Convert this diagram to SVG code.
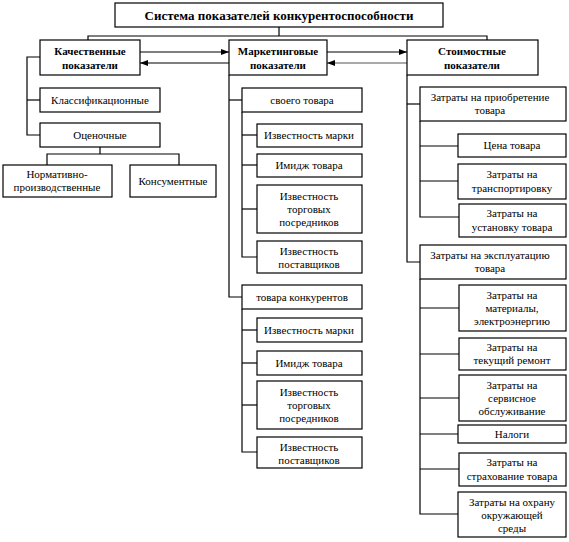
<svg xmlns="http://www.w3.org/2000/svg" width="569" height="542" viewBox="0 0 569 542">
<style>
rect{fill:#fff;stroke:#000;stroke-width:1.2}
text{font-family:'Liberation Serif','DejaVu Serif',serif;font-size:11px;fill:#000;text-anchor:middle}
.b{font-weight:bold}
.t{font-size:13px;font-weight:bold}
.c line,.c polyline{stroke:#000;stroke-width:1.2;fill:none}
</style>
<defs>
<marker id="ah" markerWidth="8" markerHeight="6" refX="8" refY="3" orient="auto" markerUnits="userSpaceOnUse">
<path d="M0,0 L8,3 L0,6 Z" fill="#000"/>
</marker>
</defs>
<g class="c" id="connectors">
<polyline points="279,27 279,36"/>
<polyline points="88,40 88,36 487,36 487,40"/>
<polyline points="40,57 27,57 27,135 40,135"/>
<line x1="27" y1="100" x2="40" y2="100"/>
<polyline points="100,147 100,154"/>
<polyline points="47,165 47,154 179,154 179,165"/>
<line x1="140" y1="52" x2="229" y2="52" marker-end="url(#ah)"/>
<line x1="229" y1="63" x2="140" y2="63" marker-end="url(#ah)"/>
<line x1="327" y1="52" x2="407" y2="52" marker-end="url(#ah)"/>
<line x1="407" y1="63" x2="327" y2="63" marker-end="url(#ah)" style="stroke:#555"/>
<polyline points="229,75 229,297 242,297"/>
<line x1="229" y1="100" x2="242" y2="100"/>
<polyline points="242,112 242,257 257,257"/>
<line x1="242" y1="135" x2="257" y2="135"/>
<line x1="242" y1="165" x2="257" y2="165"/>
<line x1="242" y1="209" x2="257" y2="209"/>
<polyline points="242,309 242,452 257,452"/>
<line x1="242" y1="330" x2="257" y2="330"/>
<line x1="242" y1="363" x2="257" y2="363"/>
<line x1="242" y1="405" x2="257" y2="405"/>
<polyline points="407,75 407,262 420,262"/>
<line x1="407" y1="104" x2="420" y2="104"/>
<polyline points="420,121 420,217 459,217"/>
<line x1="420" y1="146" x2="458" y2="146"/>
<line x1="420" y1="181" x2="458" y2="181"/>
<polyline points="420,279 420,514 458,514"/>
<line x1="420" y1="308" x2="459" y2="308"/>
<line x1="420" y1="354" x2="459" y2="354"/>
<line x1="420" y1="398" x2="459" y2="398"/>
<line x1="420" y1="434" x2="458" y2="434"/>
<line x1="420" y1="469" x2="459" y2="469"/>
</g>
<g font-family="Liberation Serif, serif">
<g id="n-top"><rect x="115" y="3" width="328" height="24"/><text class="t" x="279" y="20">Система показателей конкурентоспособности</text></g>
<g id="n-qual"><rect x="40" y="40" width="100" height="35"/><text class="b" x="90" y="55">Качественные</text><text class="b" x="90" y="69">показатели</text></g>
<g id="n-mark"><rect x="229" y="40" width="98" height="35"/><text class="b" x="278" y="55">Маркетинговые</text><text class="b" x="278" y="69">показатели</text></g>
<g id="n-cost"><rect x="407" y="40" width="131" height="35"/><text class="b" x="472" y="55">Стоимостные</text><text class="b" x="472" y="69">показатели</text></g>
<g id="n-class"><rect x="40" y="88" width="120" height="24"/><text x="100" y="104">Классификационные</text></g>
<g id="n-eval"><rect x="40" y="123" width="120" height="24"/><text x="100" y="139">Оценочные</text></g>
<g id="n-norm"><rect x="3" y="165" width="109" height="32"/><text x="57" y="178">Нормативно-</text><text x="57" y="191">производственные</text></g>
<g id="n-cons"><rect x="130" y="165" width="86" height="32"/><text x="173" y="185">Консументные</text></g>
<g id="n-own"><rect x="242" y="88" width="120" height="24"/><text x="302" y="104">своего товара</text></g>
<g id="n-own1"><rect x="257" y="124" width="105" height="23"/><text x="309" y="139">Известность марки</text></g>
<g id="n-own2"><rect x="257" y="154" width="105" height="23"/><text x="309" y="169">Имидж товара</text></g>
<g id="n-own3"><rect x="257" y="185" width="105" height="48"/><text x="309" y="200">Известность</text><text x="309" y="213">торговых</text><text x="309" y="226">посредников</text></g>
<g id="n-own4"><rect x="257" y="241" width="105" height="32"/><text x="309" y="255">Известность</text><text x="309" y="268">поставщиков</text></g>
<g id="n-comp"><rect x="242" y="285" width="120" height="24"/><text x="302" y="301">товара конкурентов</text></g>
<g id="n-comp1"><rect x="257" y="318" width="105" height="24"/><text x="309" y="334">Известность марки</text></g>
<g id="n-comp2"><rect x="257" y="351" width="105" height="24"/><text x="309" y="367">Имидж товара</text></g>
<g id="n-comp3"><rect x="257" y="381" width="105" height="48"/><text x="309" y="396">Известность</text><text x="309" y="409">торговых</text><text x="309" y="422">посредников</text></g>
<g id="n-comp4"><rect x="257" y="437" width="105" height="31"/><text x="309" y="451">Известность</text><text x="309" y="464">поставщиков</text></g>
<g id="n-acq"><rect x="420" y="87" width="146" height="34"/><text x="490" y="101">Затраты на приобретение</text><text x="490" y="114">товара</text></g>
<g id="n-acq1"><rect x="458" y="134" width="108" height="23"/><text x="512" y="149">Цена товара</text></g>
<g id="n-acq2"><rect x="458" y="164" width="108" height="35"/><text x="512" y="178">Затраты на</text><text x="512" y="192">транспортировку</text></g>
<g id="n-acq3"><rect x="459" y="204" width="107" height="33"/><text x="512" y="217">Затраты на</text><text x="512" y="231">установку товара</text></g>
<g id="n-op"><rect x="420" y="245" width="146" height="34"/><text x="490" y="259">Затраты на эксплуатацию</text><text x="490" y="272">товара</text></g>
<g id="n-op1"><rect x="459" y="285" width="107" height="46"/><text x="512" y="299">Затраты на</text><text x="512" y="312">материалы,</text><text x="512" y="325">электроэнергию</text></g>
<g id="n-op2"><rect x="459" y="338" width="107" height="32"/><text x="512" y="351">Затраты на</text><text x="512" y="364">текущий ремонт</text></g>
<g id="n-op3"><rect x="459" y="375" width="107" height="46"/><text x="512" y="389">Затраты на</text><text x="512" y="402">сервисное</text><text x="512" y="415">обслуживание</text></g>
<g id="n-op4"><rect x="458" y="425" width="108" height="18"/><text x="512" y="438">Налоги</text></g>
<g id="n-op5"><rect x="459" y="453" width="107" height="33"/><text x="512" y="466">Затраты на</text><text x="512" y="480">страхование товара</text></g>
<g id="n-op6"><rect x="458" y="492" width="108" height="45"/><text x="512" y="506">Затраты на охрану</text><text x="512" y="519">окружающей</text><text x="512" y="532">среды</text></g>
</g>
</svg>
